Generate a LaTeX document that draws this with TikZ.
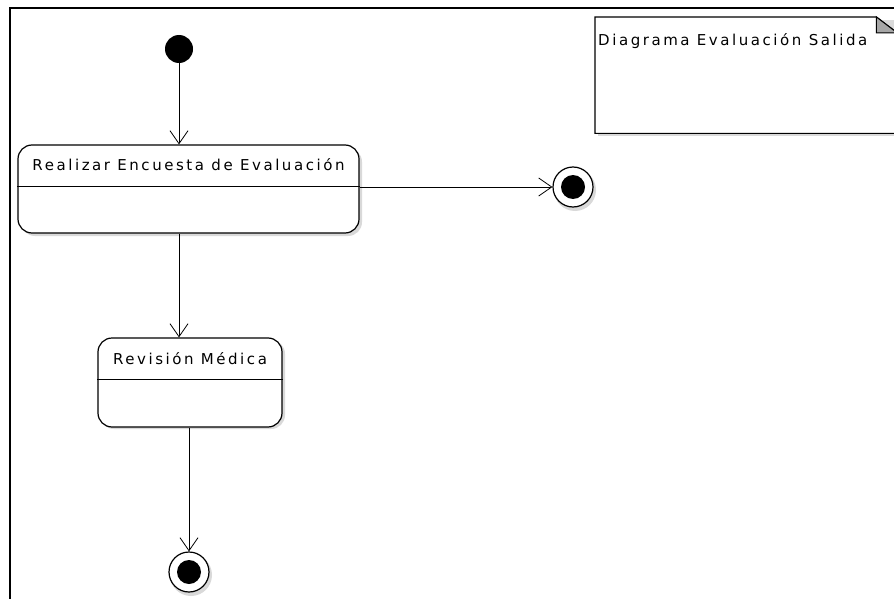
\documentclass[tikz,border=0pt]{standalone}
\usepackage{fontspec}
\setmainfont{DejaVu Sans}[LetterSpace=17]
\usetikzlibrary{arrows.meta,calc}
\begin{document}
\begin{tikzpicture}[x=1pt,y=-1pt,
  arr/.style={draw, line width=1pt, -{Straight Barb[length=13pt,width=18pt,line width=0.8pt]}},
  statebox/.style={draw, line width=1.2pt, rounded corners=14pt, fill=white, inner sep=0pt},
  lbl/.style={font=\fontsize{15}{17}\selectfont, inner sep=0pt},
  shade/.style={fill=black!15},
  finalst/.style={circle, draw, line width=1.2pt, fill=white, minimum size=40pt, inner sep=0pt}]
\useasboundingbox (0,0) rectangle (894,599);
\fill[white] (0,0) rectangle (894,599);
\draw[line width=2.5pt] (10,610) -- (10,8) -- (900,8);

% initial state
\node[circle, fill=black, minimum size=28pt, inner sep=0pt] (ini) at (179,49) {};

% state 1
\fill[shade, rounded corners=14pt] (21,148) rectangle (362,236);
\node[statebox, minimum width=341pt, minimum height=88pt] (b1) at (188.5,189) {};
\draw[line width=1pt] ($(b1.north west)!0.477!(b1.south west)$) -- ($(b1.north east)!0.477!(b1.south east)$);
\node[lbl, anchor=base] (t1) at ($(b1.north)!0.295!(b1.south)$) {Realizar Encuesta de Evaluación};

% state 2
\fill[shade, rounded corners=14pt] (100,340) rectangle (285,429);
\node[statebox, minimum width=184pt, minimum height=89pt] (b2) at (190,382.5) {};
\draw[line width=1pt] ($(b2.north west)!0.472!(b2.south west)$) -- ($(b2.north east)!0.472!(b2.south east)$);
\node[lbl, anchor=base] (t2) at ($(b2.north)!0.30!(b2.south)$) {Revisión Médica};

% final states
\fill[shade] (575,190) circle (21pt);
\node[finalst] (fin1) at (573,187) {};
\fill (fin1) circle (12pt);
\fill[shade] (191,575) circle (21pt);
\node[finalst] (fin2) at (189,572) {};
\fill (fin2) circle (12pt);

% note
\fill[shade] (598,20) rectangle (900,136);
\node[minimum width=302pt, minimum height=116pt, inner sep=0pt, anchor=north west] (note) at (595,17) {};
\draw[line width=1.2pt, fill=white] (note.south east) -- (note.south west) -- (note.north west)
  -- ($(note.north east)+(-21,0)$) -- ($(note.north east)+(0,16)$) -- cycle;
\draw[line width=1pt, fill=black!35] ($(note.north east)+(-21,0)$) -- ($(note.north east)+(-21,16)$) -- ($(note.north east)+(0,16)$) -- cycle;
\node[lbl, anchor=base west] (nt) at ($(note.north west)+(3,29)$) {Diagrama Evaluación Salida};

% transitions
\draw[arr] (ini) -- (b1.north -| ini);
\draw[arr] (b1.east |- fin1) -- (fin1);
\draw[arr] (b1.south -| ini) -- (b2.north -| ini);
\draw[arr] (b2.south -| fin2) -- (fin2);
\end{tikzpicture}
\end{document}
